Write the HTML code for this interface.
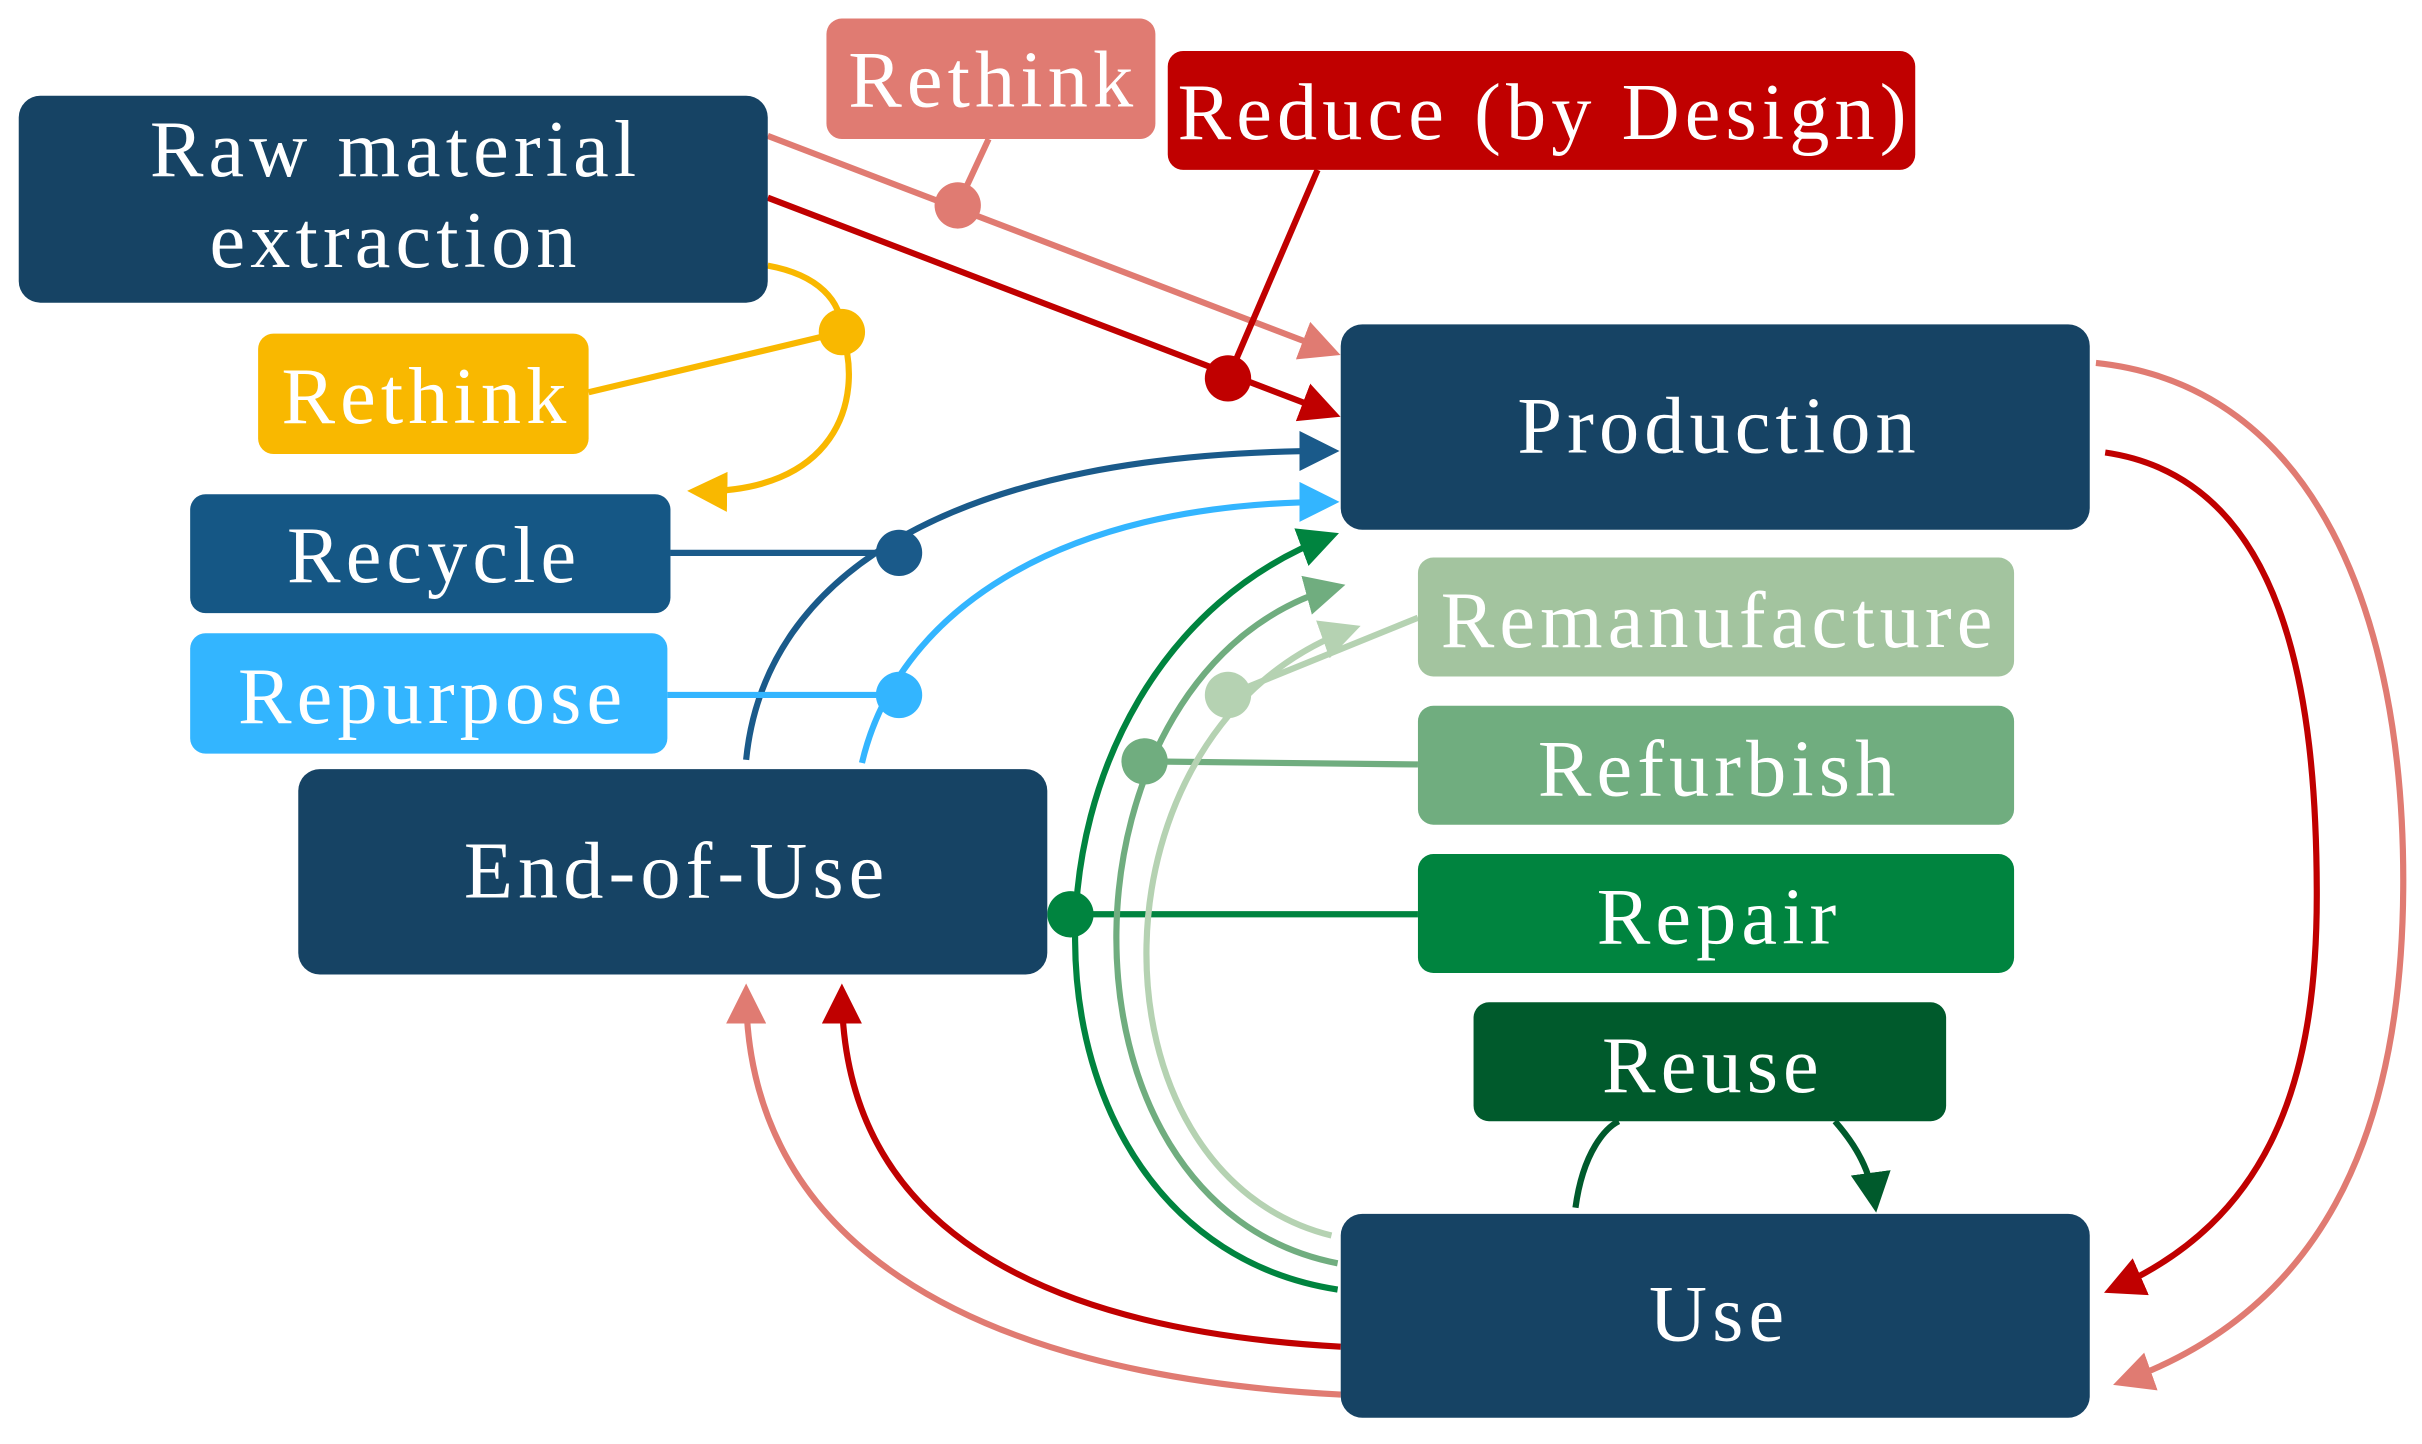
<!DOCTYPE html>
<html><head><meta charset="utf-8"><style>
html,body{margin:0;padding:0;background:#fff;}
svg{display:block;}
text{font-family:"Liberation Serif",serif;fill:#fff;text-anchor:middle;font-size:52px;letter-spacing:3.3px;}
</style></head><body>
<svg width="2422" height="1444" viewBox="0 0 1568 935" xmlns="http://www.w3.org/2000/svg">
<defs>
<marker id="aPink" viewBox="0 0 10 10" refX="8" refY="5" markerWidth="6.5" markerHeight="6.5" orient="auto" markerUnits="strokeWidth"><path d="M0,0 L10,5 L0,10 Z" fill="#e07b72"/></marker>
<marker id="aRed" viewBox="0 0 10 10" refX="8" refY="5" markerWidth="6.5" markerHeight="6.5" orient="auto" markerUnits="strokeWidth"><path d="M0,0 L10,5 L0,10 Z" fill="#c00000"/></marker>
<marker id="aYel" viewBox="0 0 10 10" refX="8" refY="5" markerWidth="6.5" markerHeight="6.5" orient="auto" markerUnits="strokeWidth"><path d="M0,0 L10,5 L0,10 Z" fill="#f9b800"/></marker>
<marker id="aRec" viewBox="0 0 10 10" refX="8" refY="5" markerWidth="6.5" markerHeight="6.5" orient="auto" markerUnits="strokeWidth"><path d="M0,0 L10,5 L0,10 Z" fill="#1a5a8a"/></marker>
<marker id="aRep" viewBox="0 0 10 10" refX="8" refY="5" markerWidth="6.5" markerHeight="6.5" orient="auto" markerUnits="strokeWidth"><path d="M0,0 L10,5 L0,10 Z" fill="#33b5ff"/></marker>
<marker id="aG1" viewBox="0 0 10 10" refX="8" refY="5" markerWidth="6.5" markerHeight="6.5" orient="auto" markerUnits="strokeWidth"><path d="M0,0 L10,5 L0,10 Z" fill="#00843f"/></marker>
<marker id="aG2" viewBox="0 0 10 10" refX="8" refY="5" markerWidth="6.5" markerHeight="6.5" orient="auto" markerUnits="strokeWidth"><path d="M0,0 L10,5 L0,10 Z" fill="#70ad7f"/></marker>
<marker id="aG3" viewBox="0 0 10 10" refX="8" refY="5" markerWidth="6.5" markerHeight="6.5" orient="auto" markerUnits="strokeWidth"><path d="M0,0 L10,5 L0,10 Z" fill="#b5d2b2"/></marker>
<marker id="aG4" viewBox="0 0 10 10" refX="8" refY="5" markerWidth="6.5" markerHeight="6.5" orient="auto" markerUnits="strokeWidth"><path d="M0,0 L10,5 L0,10 Z" fill="#005a2c"/></marker>
</defs>
<g fill="none" stroke-width="4">
<path d="M497,88 L863,228" stroke="#e07b72" marker-end="url(#aPink)"/>
<path d="M640,90 L620,133" stroke="#e07b72"/>
<path d="M497,128 L863,268" stroke="#c00000" marker-end="url(#aRed)"/>
<path d="M853,110 L795,245" stroke="#c00000"/>
<path d="M497,172 C530,178 545,195 545,215 C560,260 540,320 450,318" stroke="#f9b800" marker-end="url(#aYel)"/>
<path d="M381,254 L545,215" stroke="#f9b800"/>
<path d="M434,358 L582,358" stroke="#1a5a8a"/>
<path d="M483,492 C495,370 620,292 862,292" stroke="#1a5a8a" marker-end="url(#aRec)"/>
<path d="M432,450 L582,450" stroke="#33b5ff"/>
<path d="M558,494 C580,400 680,325 862,325" stroke="#33b5ff" marker-end="url(#aRep)"/>
<path d="M866,835 C640,800 640,430 862,347" stroke="#00843f" marker-end="url(#aG1)"/>
<path d="M918,592 L693,592" stroke="#00843f"/>
<path d="M866,818 C670,780 680,430 866,380" stroke="#70ad7f" marker-end="url(#aG2)"/>
<path d="M918,495 L741,493" stroke="#70ad7f"/>
<path d="M862,800 C700,760 700,470 876,407" stroke="#b5d2b2" marker-end="url(#aG3)"/>
<path d="M918,400 L795,450" stroke="#b5d2b2"/>
<path d="M1020,782 C1025,745 1040,730 1048,726" stroke="#005a2c"/>
<path d="M1188,726 C1202,742 1211,758 1214,780" stroke="#005a2c" marker-end="url(#aG4)"/>
<path d="M1363,293 C1480,310 1500,450 1500,580 C1500,700 1470,790 1367,835" stroke="#c00000" marker-end="url(#aRed)"/>
<path d="M1357,235 C1500,250 1556,400 1556,570 C1556,740 1500,850 1373,895" stroke="#e07b72" marker-end="url(#aPink)"/>
<path d="M868,872 C650,860 545,780 545,642" stroke="#c00000" marker-end="url(#aRed)"/>
<path d="M868,903 C620,890 483,800 483,642" stroke="#e07b72" marker-end="url(#aPink)"/>
</g>
<g>
<circle cx="620" cy="133" r="15" fill="#e07b72"/>
<circle cx="795" cy="245" r="15" fill="#c00000"/>
<circle cx="545" cy="215" r="15" fill="#f9b800"/>
<circle cx="582" cy="358" r="15" fill="#1a5a8a"/>
<circle cx="582" cy="450" r="15" fill="#33b5ff"/>
<circle cx="693" cy="592" r="15" fill="#00843f"/>
<circle cx="741" cy="493" r="15" fill="#70ad7f"/>
<circle cx="795" cy="450" r="15" fill="#b5d2b2"/>
</g>
<rect x="12" y="62" width="485" height="134" rx="14" fill="#164364"/>
<text x="256" y="114">Raw material</text>
<text x="256" y="173">extraction</text>
<rect x="535" y="12" width="213" height="78" rx="10" fill="#e07b72"/>
<text x="643" y="69">Rethink</text>
<rect x="756" y="33" width="484" height="77" rx="10" fill="#c00000"/>
<text x="1000" y="90">Reduce (by Design)</text>
<rect x="868" y="210" width="485" height="133" rx="14" fill="#164364"/>
<text x="1113" y="293">Production</text>
<rect x="167" y="216" width="214" height="78" rx="10" fill="#f9b800"/>
<text x="276" y="274">Rethink</text>
<rect x="123" y="320" width="311" height="77" rx="10" fill="#155785"/>
<text x="281" y="377">Recycle</text>
<rect x="123" y="410" width="309" height="78" rx="10" fill="#33b5ff"/>
<text x="280" y="468">Repurpose</text>
<rect x="193" y="498" width="485" height="133" rx="14" fill="#164364"/>
<text x="438" y="581">End-of-Use</text>
<rect x="918" y="361" width="386" height="77" rx="10" fill="#a3c49f"/>
<text x="1113" y="419">Remanufacture</text>
<rect x="918" y="457" width="386" height="77" rx="10" fill="#70ad7f"/>
<text x="1113" y="515">Refurbish</text>
<rect x="918" y="553" width="386" height="77" rx="10" fill="#00843f"/>
<text x="1113" y="611">Repair</text>
<rect x="954" y="649" width="306" height="77" rx="10" fill="#005a2c"/>
<text x="1109" y="707">Reuse</text>
<rect x="868" y="786" width="485" height="132" rx="14" fill="#164364"/>
<text x="1113" y="868">Use</text>
</svg>
</body></html>
